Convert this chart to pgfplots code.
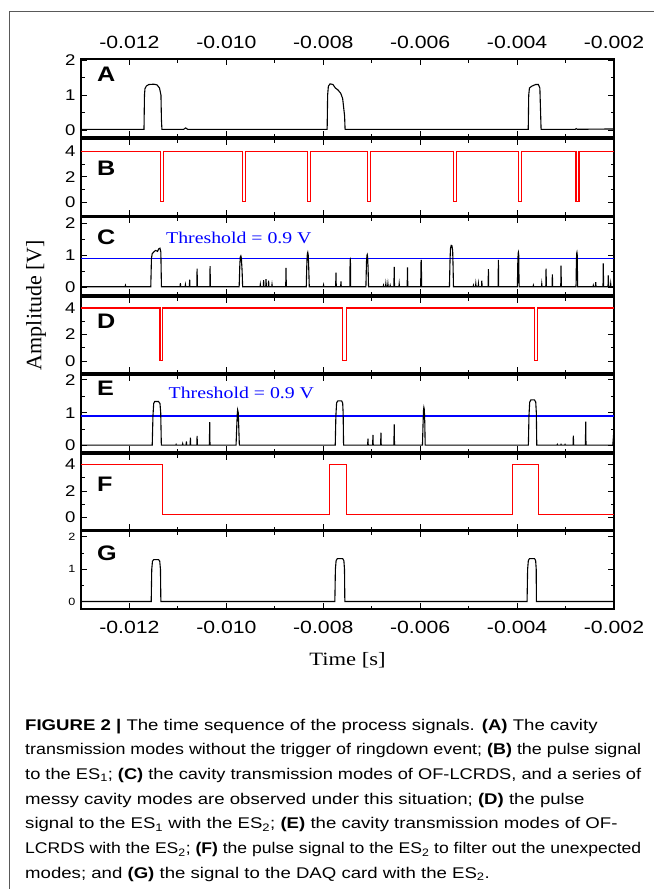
\documentclass[border=0pt]{standalone}
\usepackage{fontspec}
\setmainfont[FakeStretch=1.2]{Liberation Sans}
\newfontfamily\serifw[FakeStretch=1.2]{Liberation Serif}
\newfontfamily\serifn{Liberation Serif}
\usepackage{graphicx}
\usepackage{pgfplots}
\pgfplotsset{compat=1.18}

\pgfplotsset{
  panel/.style={
    scale only axis, width=533pt, anchor=north west,
    xmin=-0.013, xmax=-0.002, scaled x ticks=false, scaled y ticks=false,
    xtick={-0.012,-0.010,-0.008,-0.006,-0.004,-0.002},
    xticklabels={}, minor x tick num=1, minor y tick num=1,
    tick align=inside, major tick length=6pt, minor tick length=3.5pt,
    axis line style={line width=1.2pt},
    tick style={line width=1.0pt, black},
    yticklabel style={font=\fontsize{15.5}{15.5}\selectfont, xshift=-2pt},
    every axis plot/.append style={line width=1.1pt},
    clip=true,
  },
  two/.style={ytick={0,1,2}, yticklabels={0,1,2}},
  four/.style={ytick={0,2,4}, yticklabels={0,2,4}},
  xlabs/.style={
    xticklabels={-0.012,-0.010,-0.008,-0.006,-0.004,-0.002},
    xticklabel style={font=\fontsize{17.7}{18}\selectfont, yshift=#1},
  },
}
\newcommand\plab[2]{\node[anchor=west, inner sep=0pt, font=\bfseries\fontsize{21}{21}\selectfont] at (rel axis cs:0.03,#1) {#2};}
\newcommand\thr[2]{\node[text=blue, inner sep=0pt, font=\serifw\fontsize{16.5}{16.5}\selectfont] at (axis cs:#1,#2) {Threshold = 0.9 V};}

\newsavebox\capbox
\newcommand\capline[1]{\sbox\capbox{#1}\ifdim\wd\capbox>616pt\relax\resizebox{616pt}{\height}{\usebox\capbox}\else\usebox\capbox\fi}

\begin{document}
\begin{tikzpicture}
\useasboundingbox (0,0) rectangle (654pt,-889pt);
\draw[black!65, line width=0.9pt] (9pt,-889pt) -- (9pt,-11pt) -- (654pt,-11pt);

% A
\begin{axis}[panel, two, xlabs=7pt, xticklabel pos=right, at={(81pt,-59pt)}, height=78pt, ymin=-0.2, ymax=2.03]
\addplot[black] coordinates {
(-0.01300,0.02) (-0.011700,0.02) (-0.011690,1.0) (-0.011680,1.18) (-0.011650,1.26) (-0.011600,1.3)
(-0.011500,1.31) (-0.011430,1.29) (-0.011380,1.2) (-0.011350,1.0) (-0.011340,0.3) (-0.011330,0.02)
(-0.010880,0.02) (-0.010840,0.06) (-0.010800,0.02)
(-0.007920,0.02) (-0.007910,1.0) (-0.007895,1.25) (-0.007860,1.32) (-0.007800,1.3) (-0.007750,1.2)
(-0.007700,1.15) (-0.007640,1.05) (-0.007600,0.9) (-0.007560,0.4) (-0.007550,0.02)
(-0.003770,0.02) (-0.003760,1.0) (-0.003745,1.2) (-0.003700,1.25) (-0.003620,1.3) (-0.003560,1.3)
(-0.003530,1.2) (-0.003515,0.5) (-0.003505,0.02)
(-0.002800,0.02) (-0.002780,0.04) (-0.002760,0.02) (-0.002000,0.03)
};
\plab{0.81}{A}
\end{axis}

% B
\begin{axis}[panel, four, at={(81pt,-139pt)}, height=77pt, ymin=-1.1, ymax=5.0]
\addplot[red] coordinates {
(-0.013,4) (-0.011361,4) (-0.011361,0.05) (-0.011299,0.05) (-0.011299,4)
(-0.009670,4) (-0.009670,0.05) (-0.009608,0.05) (-0.009608,4)
(-0.008320,4) (-0.008320,0.05) (-0.008268,0.05) (-0.008268,4)
(-0.007093,4) (-0.007093,0.05) (-0.007031,0.05) (-0.007031,4)
(-0.005320,4) (-0.005320,0.05) (-0.005258,0.05) (-0.005258,4)
(-0.003979,4) (-0.003979,0.05) (-0.003918,0.05) (-0.003918,4)
(-0.002784,4) (-0.002784,0.05) (-0.002722,0.05) (-0.002722,4) (-0.002,4)
};
\plab{0.62}{B}
\end{axis}

% C
\begin{axis}[panel, two, at={(81pt,-217pt)}, height=78pt, ymin=-0.25, ymax=2.2]
\addplot[blue] coordinates {(-0.013,0.9) (-0.002,0.9)};
\addplot[black] coordinates {
(-0.01300,0.01) (-0.012090,0.01) (-0.012083,0.05) (-0.012076,0.01)
(-0.011560,0.01) (-0.011546,0.9) (-0.011530,1.05) (-0.011500,1.1) (-0.011460,1.15) (-0.011420,1.12) (-0.011395,1.2) (-0.011370,1.22) (-0.011352,1.1) (-0.011340,0.01)
(-0.010955,0.01) (-0.010949,0.12) (-0.010943,0.01)
(-0.010851,0.01) (-0.010845,0.07) (-0.010839,0.01)
(-0.010763,0.01) (-0.010757,0.23) (-0.010751,0.01)
(-0.010610,0.01) (-0.010604,0.58) (-0.010598,0.01)
(-0.010342,0.01) (-0.010336,0.66) (-0.010330,0.01)
(-0.009736,0.01) (-0.009722,0.7) (-0.009712,0.95) (-0.009701,0.98) (-0.009690,0.9) (-0.009675,0.5) (-0.009664,0.01)
(-0.009305,0.01) (-0.009299,0.08) (-0.009293,0.01)
(-0.009237,0.01) (-0.009231,0.22) (-0.009225,0.01)
(-0.009187,0.01) (-0.009181,0.25) (-0.009175,0.01)
(-0.009134,0.01) (-0.009128,0.20) (-0.009122,0.01)
(-0.009064,0.01) (-0.009058,0.08) (-0.009052,0.01)
(-0.008775,0.01) (-0.008769,0.60) (-0.008763,0.01)
(-0.008351,0.01) (-0.008338,0.8) (-0.008328,1.05) (-0.008320,1.09) (-0.008310,1.0) (-0.008300,0.6) (-0.008289,0.01)
(-0.008000,0.01) (-0.007994,0.06) (-0.007988,0.01)
(-0.007744,0.01) (-0.007738,0.45) (-0.007732,0.01)
(-0.007641,0.01) (-0.007635,0.18) (-0.007629,0.01)
(-0.007452,0.01) (-0.007446,0.85) (-0.007440,0.87) (-0.007434,0.01)
(-0.007120,0.01) (-0.007108,0.8) (-0.007098,1.0) (-0.007093,1.02) (-0.007085,0.95) (-0.007075,0.6) (-0.007066,0.01)
(-0.006763,0.01) (-0.006757,0.05) (-0.006751,0.01)
(-0.006715,0.01) (-0.006709,0.10) (-0.006703,0.01)
(-0.006672,0.01) (-0.006666,0.10) (-0.006660,0.01)
(-0.006625,0.01) (-0.006619,0.05) (-0.006613,0.01)
(-0.006542,0.01) (-0.006536,0.63) (-0.006530,0.01)
(-0.006439,0.01) (-0.006433,0.10) (-0.006427,0.01)
(-0.006268,0.01) (-0.006262,0.62) (-0.006256,0.01)
(-0.005990,0.01) (-0.005982,0.80) (-0.005977,0.85) (-0.005970,0.01)
(-0.005396,0.01) (-0.005385,0.8) (-0.005375,1.2) (-0.005360,1.31) (-0.005345,1.3) (-0.005330,1.15) (-0.005322,0.7) (-0.005313,0.01)
(-0.004907,0.01) (-0.004901,0.05) (-0.004895,0.01)
(-0.004858,0.01) (-0.004852,0.10) (-0.004846,0.01)
(-0.004804,0.01) (-0.004798,0.10) (-0.004792,0.01)
(-0.004734,0.01) (-0.004728,0.20) (-0.004722,0.01)
(-0.004598,0.01) (-0.004592,0.56) (-0.004586,0.01)
(-0.004392,0.01) (-0.004386,0.85) (-0.004380,0.01)
(-0.003994,0.01) (-0.003985,0.8) (-0.003978,1.06) (-0.003973,1.09) (-0.003966,1.0) (-0.003959,0.01)
(-0.003670,0.01) (-0.003664,0.05) (-0.003658,0.01)
(-0.003497,0.01) (-0.003491,0.10) (-0.003485,0.01)
(-0.003408,0.01) (-0.003402,0.58) (-0.003396,0.01)
(-0.003278,0.01) (-0.003272,0.40) (-0.003266,0.01)
(-0.003099,0.01) (-0.003093,0.67) (-0.003087,0.01)
(-0.002784,0.01) (-0.002776,0.8) (-0.002770,1.06) (-0.002765,1.09) (-0.002758,1.0) (-0.002751,0.01)
(-0.002433,0.01) (-0.002427,0.05) (-0.002421,0.01)
(-0.002383,0.01) (-0.002377,0.15) (-0.002371,0.01)
(-0.002227,0.01) (-0.002221,0.74) (-0.002215,0.01)
(-0.002124,0.01) (-0.002118,0.37) (-0.002112,0.01)
(-0.002074,0.01) (-0.002068,0.10) (-0.002062,0.01)
(-0.002000,0.01)
};
\thr{-0.009742}{1.53}
\plab{0.74}{C}
\end{axis}

% D
\begin{axis}[panel, four, at={(81pt,-297pt)}, height=76pt, ymin=-0.9, ymax=4.83]
\addplot[red] coordinates {
(-0.013,4) (-0.011369,4) (-0.011369,0.05) (-0.011309,0.05) (-0.011309,4)
(-0.007598,4) (-0.007598,0.05) (-0.007530,0.05) (-0.007530,4)
(-0.003637,4) (-0.003637,0.05) (-0.003577,0.05) (-0.003577,4) (-0.002,4)
};
\plab{0.68}{D}
\end{axis}

% E
\begin{axis}[panel, two, at={(81pt,-375pt)}, height=77pt, ymin=-0.2, ymax=2.15]
\addplot[blue] coordinates {(-0.013,0.9) (-0.002,0.9)};
\addplot[black] coordinates {
(-0.013,0.01) (-0.011530,0.01) (-0.011515,0.9) (-0.011500,1.28) (-0.011480,1.34) (-0.011400,1.34) (-0.011370,1.28) (-0.011355,1.0) (-0.011342,0.01)
(-0.011043,0.01) (-0.011037,0.03) (-0.011031,0.01)
(-0.010907,0.01) (-0.010901,0.05) (-0.010895,0.01)
(-0.010831,0.01) (-0.010825,0.12) (-0.010819,0.01)
(-0.010748,0.01) (-0.010742,0.24) (-0.010736,0.01)
(-0.010610,0.01) (-0.010604,0.29) (-0.010598,0.01)
(-0.010350,0.01) (-0.010344,0.71) (-0.010338,0.01)
(-0.009800,0.01) (-0.009785,0.6) (-0.009775,0.95) (-0.009767,1.08) (-0.009755,1.0) (-0.009745,0.6) (-0.009732,0.01)
(-0.007753,0.01) (-0.007740,0.9) (-0.007725,1.3) (-0.007700,1.36) (-0.007620,1.36) (-0.007600,1.3) (-0.007590,1.0) (-0.007581,0.01)
(-0.007084,0.01) (-0.007078,0.21) (-0.007072,0.01)
(-0.006981,0.01) (-0.006975,0.32) (-0.006969,0.01)
(-0.006816,0.01) (-0.006810,0.39) (-0.006804,0.01)
(-0.006542,0.01) (-0.006536,0.64) (-0.006530,0.01)
(-0.005953,0.01) (-0.005940,0.7) (-0.005930,1.1) (-0.005924,1.16) (-0.005915,1.1) (-0.005905,0.7) (-0.005897,0.01)
(-0.003767,0.01) (-0.003755,0.9) (-0.003740,1.32) (-0.003715,1.39) (-0.003640,1.39) (-0.003615,1.32) (-0.003603,1.0) (-0.003594,0.01)
(-0.003175,0.01) (-0.003169,0.03) (-0.003163,0.01)
(-0.003099,0.01) (-0.003093,0.03) (-0.003087,0.01)
(-0.003016,0.01) (-0.003010,0.03) (-0.003004,0.01)
(-0.002845,0.01) (-0.002839,0.30) (-0.002833,0.01)
(-0.002590,0.01) (-0.002584,0.73) (-0.002578,0.01)
(-0.002025,0.01) (-0.002010,0.3) (-0.002000,0.5)
};
\thr{-0.009691}{1.6}
\plab{0.83}{E}
\end{axis}

% F
\begin{axis}[panel, four, at={(81pt,-454pt)}, height=76pt, ymin=-0.95, ymax=4.8]
\addplot[red] coordinates {
(-0.013,4) (-0.011309,4) (-0.011309,0.2) (-0.007872,0.2) (-0.007872,4) (-0.007530,4) (-0.007530,0.2)
(-0.004093,0.2) (-0.004093,4) (-0.003561,4) (-0.003561,0.2) (-0.002,0.2)
};
\plab{0.6}{F}
\end{axis}

% G
\begin{axis}[panel, two, xlabs=-9pt, at={(81pt,-531pt)}, height=78pt, ymin=-0.22, ymax=2.18,
  yticklabel style={font=\fontsize{10.5}{10.5}\selectfont}]
\addplot[black] coordinates {
(-0.013,0.01) (-0.011551,0.01) (-0.011540,1.0) (-0.011525,1.25) (-0.011500,1.3) (-0.011400,1.3) (-0.011375,1.25) (-0.011360,1.0) (-0.011352,0.01)
(-0.007761,0.01) (-0.007750,1.0) (-0.007735,1.27) (-0.007710,1.33) (-0.007600,1.33) (-0.007575,1.27) (-0.007562,1.0) (-0.007555,0.01)
(-0.003794,0.01) (-0.003783,1.0) (-0.003768,1.27) (-0.003745,1.33) (-0.003640,1.33) (-0.003617,1.27) (-0.003605,1.0) (-0.003602,0.01)
(-0.002,0.01)
};
\plab{0.72}{G}
\end{axis}

\node[rotate=90, font=\serifn\fontsize{22}{22}\selectfont] at (36pt,-305pt) {Amplitude [V]};
\node[font=\serifw\fontsize{18.8}{19}\selectfont] at (347.5pt,-660pt) {Time [s]};

\begin{scope}[every node/.style={anchor=base west, inner sep=0pt, font=\fontsize{15.5}{18}\selectfont}]
\node at (25pt,-730pt) {\capline{\textbf{FIGURE 2 |} The time sequence of the process signals. \textbf{(A)} The cavity}};
\node at (25pt,-754.7pt) {\capline{transmission modes without the trigger of ringdown event; \textbf{(B)} the pulse signal}};
\node at (25pt,-779.4pt) {\capline{to the ES\textsubscript{1}; \textbf{(C)} the cavity transmission modes of OF-LCRDS, and a series of}};
\node at (25pt,-804.1pt) {\capline{messy cavity modes are observed under this situation; \textbf{(D)} the pulse}};
\node at (25pt,-828.8pt) {\capline{signal to the ES\textsubscript{1} with the ES\textsubscript{2}; \textbf{(E)} the cavity transmission modes of OF-}};
\node at (25pt,-853.5pt) {\capline{LCRDS with the ES\textsubscript{2}; \textbf{(F)} the pulse signal to the ES\textsubscript{2} to filter out the unexpected}};
\node at (25pt,-878.2pt) {\capline{modes; and \textbf{(G)} the signal to the DAQ card with the ES\textsubscript{2}.}};
\end{scope}
\end{tikzpicture}
\end{document}
